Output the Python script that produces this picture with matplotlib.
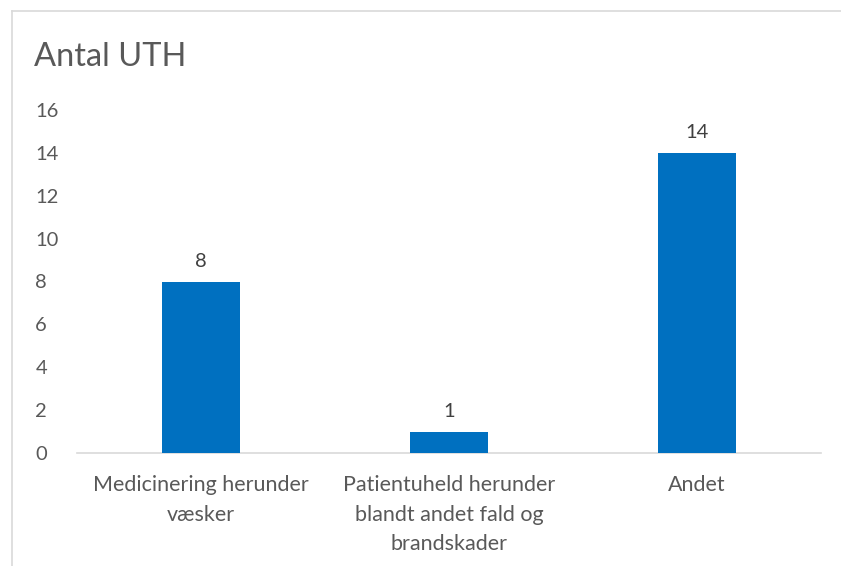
import matplotlib
matplotlib.use("Agg")
import matplotlib.pyplot as plt
from matplotlib.lines import Line2D

plt.rcParams["font.family"] = ["Lato", "DejaVu Sans"]

# Data
categories = ["Medicinering herunder\nvæsker",
              "Patientuheld herunder\nblandt andet fald og\nbrandskader",
              "Andet"]
values = [8, 1, 14]
y_ticks = [0, 2, 4, 6, 8, 10, 12, 14, 16]

text_color = "#595959"
bar_color = "#0070C0"

fig = plt.figure(figsize=(8.41, 5.66), dpi=100)
W, H = 841, 566

# axes placed in pixel coords: x 77..821, y 110..453 (from top)
ax = fig.add_axes([77 / W, 1 - 453 / H, (821 - 77) / W, (453 - 110) / H])

x = range(len(categories))
bars = ax.bar(x, values, width=0.315, color=bar_color, zorder=3)
for b, v in zip(bars, values):
    ax.text(b.get_x() + b.get_width() / 2, v + 0.55, str(v),
            ha="center", va="bottom", fontsize=14.5, color="#404040")

ax.set_xlim(-0.5, len(categories) - 0.5)
ax.set_ylim(0, 16)
ax.set_yticks(y_ticks)
ax.set_xticks(list(x))
ax.set_xticklabels(categories, fontsize=15.5, color=text_color, linespacing=1.6)
ax.tick_params(axis="y", labelsize=14.5, labelcolor=text_color, length=0, pad=30)
ax.tick_params(axis="x", length=0, pad=16)
for lbl in ax.get_yticklabels():
    lbl.set_horizontalalignment("left")

for side in ["top", "right", "left"]:
    ax.spines[side].set_visible(False)
ax.spines["bottom"].set_color("#D9D9D9")
ax.spines["bottom"].set_linewidth(1.2)

fig.text(34 / W, 1 - 57 / H, "Antal UTH", fontsize=23.5, color=text_color,
         ha="left", va="center")

# chart border (top and left visible)
fig.add_artist(Line2D([12 / W, 12 / W], [0, 1 - 11 / H], transform=fig.transFigure,
                      color="#D9D9D9", linewidth=1.2))
fig.add_artist(Line2D([12 / W, 1], [1 - 11 / H, 1 - 11 / H], transform=fig.transFigure,
                      color="#D9D9D9", linewidth=1.2))

fig.savefig("out.png", dpi=100)
